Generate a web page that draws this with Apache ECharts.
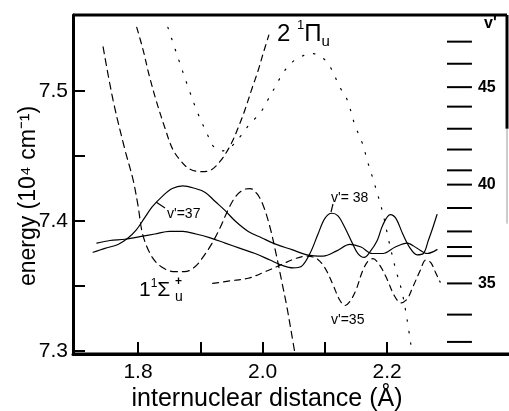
<!DOCTYPE html>
<html>
<head>
<meta charset="utf-8">
<script src="https://cdn.jsdelivr.net/npm/echarts@6/dist/echarts.min.js"></script>
<style>
  html, body { margin: 0; padding: 0; background: #fff; }
  #chart { width: 509px; height: 411px; }
</style>
</head>
<body>
<div id="chart"></div>
<script>
// Axis ticks and labels
const xTicks = [1.8, 1.9, 2.0, 2.1, 2.2];
const xLabels = [1.8, 2.0, 2.2];
const yTicks = [7.3, 7.35, 7.4, 7.45, 7.5];
const yLabels = [7.3, 7.4, 7.5];

// 2 1Πu adiabatic potential (dashed)
const piWellR = [1.798, 1.808, 1.818, 1.829, 1.843, 1.856, 1.871, 1.883, 1.900, 1.916, 1.932, 1.948, 1.961, 1.972, 1.983, 1.993, 2.001, 2.010];
const piWellE = [7.549, 7.532, 7.512, 7.493, 7.472, 7.455, 7.445, 7.440, 7.438, 7.439, 7.446, 7.458, 7.472, 7.486, 7.502, 7.516, 7.529, 7.543];

// 2 1Πu curve with barrier (dotted)
const piBarrierR = [1.848, 1.864, 1.879, 1.896, 1.912, 1.920, 1.935, 1.949, 1.964, 1.980, 1.996, 2.007, 2.020, 2.033, 2.047, 2.060, 2.078, 2.095, 2.108, 2.124, 2.136, 2.148, 2.160, 2.169, 2.180, 2.193, 2.203, 2.213, 2.224, 2.232, 2.238];
const piBarrierE = [7.549, 7.526, 7.505, 7.483, 7.466, 7.458, 7.454, 7.457, 7.465, 7.475, 7.483, 7.492, 7.503, 7.514, 7.522, 7.526, 7.529, 7.526, 7.519, 7.503, 7.493, 7.474, 7.460, 7.445, 7.428, 7.406, 7.384, 7.364, 7.345, 7.324, 7.305];

// Wavefunction in the 2 1Πu well (dashed)
const wavePiR = [1.744, 1.760, 1.779, 1.792, 1.800, 1.808, 1.823, 1.840, 1.859, 1.875, 1.892, 1.904, 1.919, 1.932, 1.945, 1.957, 1.969, 1.980, 1.991, 2.001, 2.012, 2.022, 2.031, 2.039, 2.047, 2.052];
const wavePiE = [7.534, 7.493, 7.455, 7.432, 7.412, 7.389, 7.372, 7.364, 7.361, 7.361, 7.365, 7.372, 7.383, 7.395, 7.409, 7.419, 7.424, 7.425, 7.421, 7.412, 7.395, 7.374, 7.353, 7.334, 7.312, 7.298];

// v' = 37 wavefunction (solid)
const wave37R = [1.728, 1.747, 1.768, 1.784, 1.797, 1.810, 1.823, 1.839, 1.855, 1.872, 1.892, 1.908, 1.924, 1.940, 1.956, 1.977, 1.999, 2.022, 2.047, 2.071, 2.097, 2.119, 2.140, 2.158, 2.176, 2.193, 2.213, 2.232, 2.248, 2.264, 2.280];
const wave37E = [7.376, 7.379, 7.382, 7.387, 7.393, 7.402, 7.411, 7.419, 7.425, 7.427, 7.425, 7.422, 7.415, 7.408, 7.400, 7.392, 7.387, 7.382, 7.378, 7.374, 7.373, 7.377, 7.382, 7.380, 7.375, 7.375, 7.380, 7.383, 7.379, 7.375, 7.378];

// v' = 38 wavefunction (solid)
const wave38R = [1.734, 1.755, 1.779, 1.803, 1.827, 1.851, 1.872, 1.893, 1.916, 1.940, 1.964, 1.988, 2.012, 2.031, 2.049, 2.062, 2.076, 2.089, 2.100, 2.111, 2.121, 2.132, 2.144, 2.153, 2.163, 2.172, 2.184, 2.193, 2.205, 2.214, 2.225, 2.237, 2.248, 2.258, 2.266, 2.274, 2.280];
const wave38E = [7.383, 7.385, 7.386, 7.388, 7.390, 7.392, 7.392, 7.390, 7.387, 7.383, 7.379, 7.375, 7.370, 7.366, 7.364, 7.365, 7.375, 7.390, 7.402, 7.406, 7.404, 7.395, 7.383, 7.375, 7.372, 7.376, 7.385, 7.397, 7.405, 7.402, 7.390, 7.379, 7.374, 7.375, 7.385, 7.396, 7.405];

// v' = 35 wavefunction (dashed)
const wave35R = [1.920, 1.948, 1.977, 2.004, 2.028, 2.052, 2.071, 2.087, 2.100, 2.113, 2.124, 2.132, 2.140, 2.150, 2.160, 2.169, 2.177, 2.188, 2.200, 2.211, 2.222, 2.232, 2.241, 2.253, 2.262, 2.270, 2.278, 2.285];
const wave35E = [7.352, 7.354, 7.356, 7.361, 7.366, 7.371, 7.373, 7.371, 7.364, 7.351, 7.339, 7.335, 7.338, 7.347, 7.361, 7.369, 7.371, 7.366, 7.355, 7.343, 7.337, 7.340, 7.349, 7.362, 7.370, 7.368, 7.360, 7.353];

// Vibrational levels v' of the right-hand scale
const levelV = [47, 46, 45, 44, 43, 42, 41, 40, 39, 38, 37, 36, 35, 34, 33];
const levelE = [7.538, 7.521, 7.503, 7.488, 7.471, 7.455, 7.439, 7.428, 7.410, 7.392, 7.380, 7.373, 7.352, 7.328, 7.307];

const pairs = (rs, es) => rs.map((r, i) => [r, es[i]]);

const FONT = '"Liberation Sans", Arial, sans-serif';
const INK = '#000';

// axis range
const R_MIN = 1.6957, R_MAX = 2.3939;
const E_MIN = 7.2977, E_MAX = 7.5585;

// horizontal extent of the level marks on the right-hand scale
const LEVEL_R0 = 2.296, LEVEL_R1 = 2.336;

function curve(name, data, type, width) {
  return {
    name, type: 'line', data, showSymbol: false, smooth: 0.35,
    lineStyle: { color: INK, width: width || 1.2, type, cap: 'round' },
    emphasis: { disabled: true }, silent: true, z: 3
  };
}

const chart = echarts.init(document.getElementById('chart'), null, { renderer: 'canvas' });

chart.setOption({
  animation: false,
  backgroundColor: '#fff',
  grid: { left: 73, right: 1, top: 15, bottom: 57 },
  xAxis: [{
    type: 'value', min: R_MIN, max: R_MAX, position: 'bottom',
    axisLine: { show: true, onZero: false, lineStyle: { color: INK, width: 3 } },
    axisTick: { inside: true, length: 12, lineStyle: { color: INK, width: 2 }, customValues: xTicks },
    axisLabel: { customValues: xLabels, formatter: v => v.toFixed(1), color: INK, fontSize: 21, fontFamily: FONT, margin: 8 },
    splitLine: { show: false }
  }],
  yAxis: {
    type: 'value', min: E_MIN, max: E_MAX,
    axisLine: { show: true, onZero: false, lineStyle: { color: INK, width: 3 } },
    axisTick: { inside: true, length: 12, lineStyle: { color: INK, width: 2 }, customValues: yTicks },
    axisLabel: { customValues: yLabels, formatter: v => v.toFixed(1), color: INK, fontSize: 21, fontFamily: FONT, margin: 5 },
    splitLine: { show: false }
  },
  series: [
    curve('2 1Πu', pairs(piWellR, piWellE), [6, 5]),
    curve('2 1Πu barrier', pairs(piBarrierR, piBarrierE), [1.5, 10]),
    curve('Πu wavefunction', pairs(wavePiR, wavePiE), [7, 5]),
    curve("v'=37", pairs(wave37R, wave37E), 'solid'),
    curve("v'=38", pairs(wave38R, wave38E), 'solid'),
    curve("v'=35", pairs(wave35R, wave35E), [6, 5]),
    {
      // top edge of the plot frame and the partial right edge
      name: 'frame', type: 'custom', silent: true, z: 5, clip: false,
      data: [[R_MIN, E_MIN]],
      renderItem(params, api) {
        const bl = api.coord([R_MIN, E_MIN]);
        const tr = api.coord([R_MAX, E_MAX]);
        const rightEnd = api.coord([R_MAX, 7.471]);
        const faintEnd = api.coord([R_MAX, 7.398]);
        const seg = (x1, y1, x2, y2, w, c) => ({
          type: 'line', shape: { x1, y1, x2, y2 }, style: { stroke: c || INK, lineWidth: w }
        });
        return { type: 'group', children: [
          seg(bl[0], bl[1], tr[0] + 1, bl[1], 3),
          seg(bl[0], tr[1], tr[0] - 1, tr[1], 3),
          seg(tr[0] - 1, tr[1], tr[0] - 1, rightEnd[1], 3),
          seg(tr[0] - 1, rightEnd[1], tr[0] - 1, faintEnd[1], 1, '#999')
        ] };
      }
    },
    {
      name: 'levels', type: 'custom', silent: true, z: 4,
      data: levelE.map((e, i) => [e, levelV[i]]),
      encode: { y: 0 },
      renderItem(params, api) {
        const e = api.value(0), v = api.value(1);
        const p0 = api.coord([LEVEL_R0, e]);
        const p1 = api.coord([LEVEL_R1, e]);
        const children = [{
          type: 'line',
          shape: { x1: p0[0], y1: p0[1], x2: p1[0], y2: p1[1] },
          style: { stroke: INK, lineWidth: 2 }
        }];
        if (v % 5 === 0) {
          children.push({
            type: 'text', x: p1[0] + 6, y: p1[1],
            style: { text: String(v), fill: INK, font: 'bold 16px ' + FONT, align: 'left', verticalAlign: 'middle' }
          });
        }
        return { type: 'group', children };
      }
    }
  ],
  graphic: [
    // axis titles
    { type: 'text', x: 29, y: 196, rotation: Math.PI / 2, z: 10,
      style: { text: 'energy (10⁴ cm⁻¹)', fill: INK, font: '23px ' + FONT, align: 'center', verticalAlign: 'middle' } },
    { type: 'text', x: 267, y: 399, z: 10,
      style: { text: 'internuclear distance (Å)', fill: INK, font: '25px ' + FONT, align: 'center', verticalAlign: 'middle' } },
    // v' scale heading
    { type: 'text', x: 484, y: 24, z: 10, style: { text: "v'", fill: INK, font: 'bold 16px ' + FONT, align: 'left', verticalAlign: 'middle' } },
    // state labels
    { type: 'text', x: 277, y: 34, z: 10,
      style: { text: '{n|2 }{s|1}{n|Π}{d|u}', fill: INK, align: 'left', verticalAlign: 'middle',
        rich: {
          n: { fontSize: 24, fontFamily: FONT, fill: INK, lineHeight: 30 },
          s: { fontSize: 13, fontFamily: FONT, fill: INK, verticalAlign: 'top', lineHeight: 14 },
          d: { fontSize: 15, fontFamily: FONT, fill: INK, verticalAlign: 'bottom', lineHeight: 14 }
        } } },
    { type: 'text', x: 139, y: 290, z: 10,
      style: { text: '{n|1}{s|1}{n|Σ}', fill: INK, align: 'left', verticalAlign: 'middle',
        rich: {
          n: { fontSize: 21, fontFamily: FONT, fill: INK, lineHeight: 24 },
          s: { fontSize: 12, fontFamily: FONT, fill: INK, verticalAlign: 'top', lineHeight: 14 }
        } } },
    { type: 'text', x: 175, y: 282, z: 10, style: { text: '+', fill: INK, font: 'bold 12px ' + FONT, align: 'left', verticalAlign: 'middle' } },
    { type: 'text', x: 175, y: 297, z: 10, style: { text: 'u', fill: INK, font: '14px ' + FONT, align: 'left', verticalAlign: 'middle' } },
    // wavefunction labels
    { type: 'line', z: 10, shape: { x1: 156, y1: 202, x2: 165, y2: 208 }, style: { stroke: INK, lineWidth: 1.2 } },
    { type: 'text', x: 167, y: 214, z: 10, style: { text: "v'=37", fill: INK, font: '14px ' + FONT, align: 'left', verticalAlign: 'middle' } },
    { type: 'line', z: 10, shape: { x1: 333, y1: 204, x2: 331, y2: 212 }, style: { stroke: INK, lineWidth: 1.2 } },
    { type: 'text', x: 331, y: 198, z: 10, style: { text: "v'= 38", fill: INK, font: '14px ' + FONT, align: 'left', verticalAlign: 'middle' } },
    { type: 'text', x: 331, y: 320, z: 10, style: { text: "v'=35", fill: INK, font: '14px ' + FONT, align: 'left', verticalAlign: 'middle' } }
  ]
});
</script>
</body>
</html>
